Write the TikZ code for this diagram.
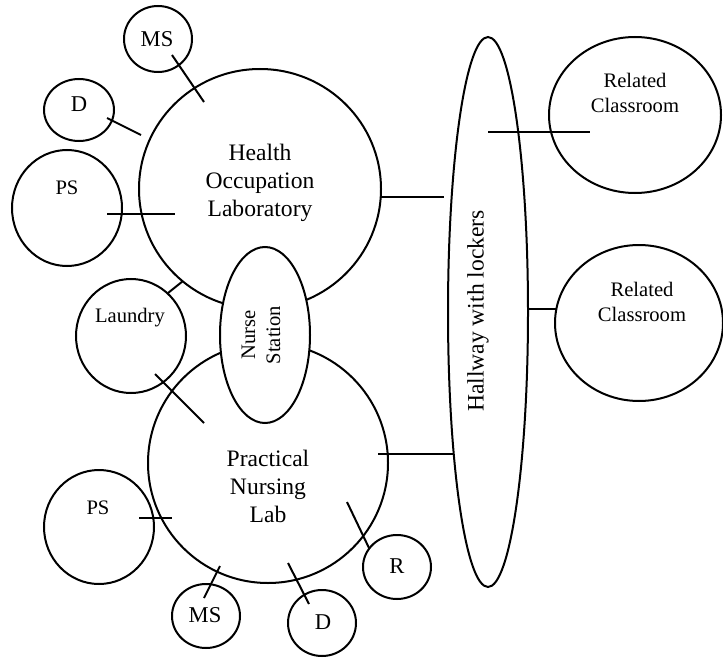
\documentclass[tikz,border=0pt]{standalone}
\usepackage{fontspec}
\setmainfont{Liberation Serif}
\usetikzlibrary{shapes.geometric}
\tikzset{
  room/.style n args={2}{ellipse, draw, line width=1pt, inner sep=0pt,
    minimum width=#1pt, minimum height=#2pt},
  link/.style={line width=1pt},
  bigtxt/.style={align=center, inner sep=0pt, font=\fontsize{11.8pt}{14pt}\selectfont},
  medtxt/.style={align=center, inner sep=0pt, font=\fontsize{11.3pt}{13.5pt}\selectfont},
  smltxt/.style={align=center, inner sep=0pt, font=\fontsize{10.3pt}{12.5pt}\selectfont},
}
\begin{document}
\begin{tikzpicture}[x=0.5pt, y=-0.5pt]
\useasboundingbox (0,0) rectangle (723,658);
% rooms
\node[room={34}{33}] (ms1) at (158,39) {};
\node[room={35}{31}] (d1) at (79,110) {};
\node[room={55}{58}] (ps1) at (67,208) {};
\node[room={121}{120}] (health) at (260,189) {};
\node[room={55}{57}] (laundry) at (131,336) {};
\node[room={120}{120}] (practical) at (268,463) {};
\node[room={55}{57}] (ps2) at (99,527) {};
\node[room={34}{32}] (ms2) at (206,616) {};
\node[room={34}{33}] (d2) at (322,623) {};
\node[room={34}{32}] (r) at (397,567) {};
\node[room={40}{275}] (hall) at (488,312) {};
\node[room={86}{78}] (rc1) at (635,115) {};
\node[room={84}{78}] (rc2) at (639,323) {};
\node[room={45}{88}, fill=white] (nurse) at (265,335) {};
% texts
\node[medtxt] (ms1t) at (157,39) {MS};
\node[medtxt] (d1t) at (79,104) {D};
\node[smltxt] (ps1t) at (67,188) {PS};
\node[bigtxt] (healtht) at (260,183) {Health\\Occupation\\Laboratory};
\node[smltxt] (laundryt) at (130,318) {Laundry};
\node[smltxt, rotate=90] (nurset) at (261,335) {Nurse\\Station};
\node[bigtxt] (practicalt) at (268,486) {Practical\\Nursing\\Lab};
\node[smltxt] (ps2t) at (98,508) {PS};
\node[medtxt] (ms2t) at (205,615) {MS};
\node[medtxt] (d2t) at (323,622) {D};
\node[medtxt] (rt) at (397,566) {R};
\node[bigtxt, rotate=90] (hallt) at (478,311) {Hallway with lockers};
\node[smltxt] (rc1t) at (635,93) {Related\\Classroom};
\node[smltxt] (rc2t) at (642,302) {Related\\Classroom};
% connector end points
\coordinate (a1) at (172,55);  \coordinate (a2) at (204,102);
\coordinate (b1) at (107,118); \coordinate (b2) at (141,135);
\coordinate (c1) at (107,214); \coordinate (c2) at (175,214);
\coordinate (e1) at (168,293); \coordinate (e2) at (183,281);
\coordinate (f1) at (381,197); \coordinate (f2) at (444,197);
\coordinate (g1) at (488,132); \coordinate (g2) at (590,132);
\coordinate (h1) at (528,309); \coordinate (h2) at (557,309);
\coordinate (i1) at (378,454); \coordinate (i2) at (454,454);
\coordinate (j1) at (155,374); \coordinate (j2) at (204,423);
\coordinate (k1) at (139,518); \coordinate (k2) at (172,518);
\coordinate (l1) at (204,598); \coordinate (l2) at (220,566);
\coordinate (m1) at (288,563); \coordinate (m2) at (309,604);
\coordinate (n1) at (347,502); \coordinate (n2) at (369,548);
% connectors
\draw[link] (a1) -- (a2);
\draw[link] (b1) -- (b2);
\draw[link] (c1) -- (c2);
\draw[link] (e1) -- (e2);
\draw[link] (f1) -- (f2);
\draw[link] (g1) -- (g2);
\draw[link] (h1) -- (h2);
\draw[link] (i1) -- (i2);
\draw[link] (j1) -- (j2);
\draw[link] (k1) -- (k2);
\draw[link] (l1) -- (l2);
\draw[link] (m1) -- (m2);
\draw[link] (n1) -- (n2);
\end{tikzpicture}
\end{document}
